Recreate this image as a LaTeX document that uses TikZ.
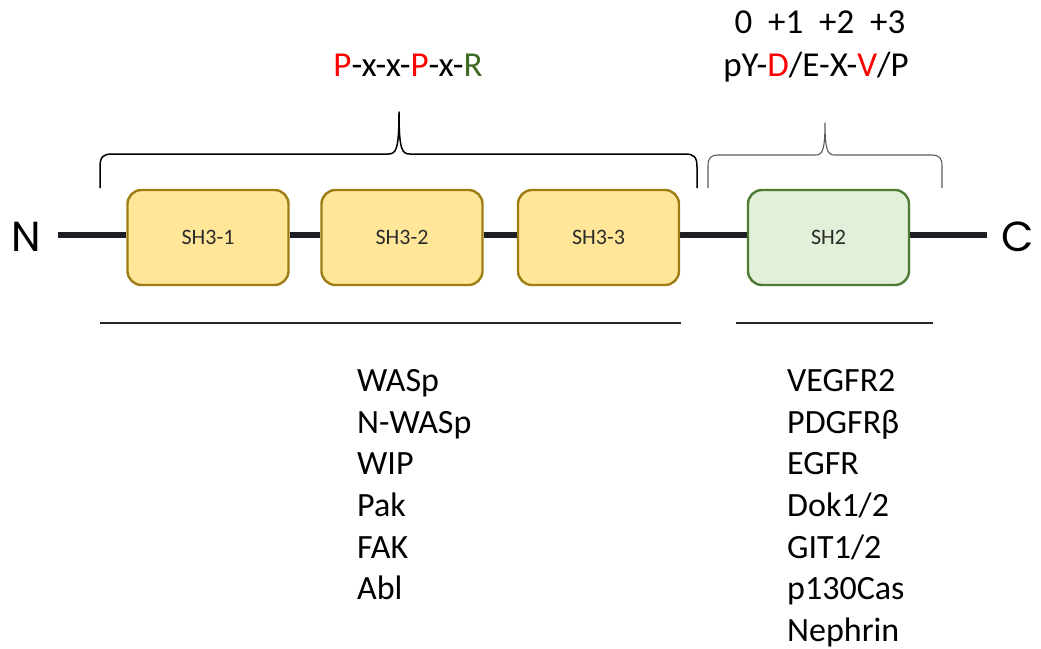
\documentclass[tikz,border=0pt]{standalone}
\usepackage{fontspec}
\setmainfont{Carlito}
\newfontfamily\geofont{Poppins}
\definecolor{sh3fill}{HTML}{FFE699}
\definecolor{sh3edge}{HTML}{9E7E14}
\definecolor{sh2fill}{HTML}{E2F0D9}
\definecolor{sh2edge}{HTML}{4F7A32}
\definecolor{motifred}{HTML}{FF0000}
\definecolor{motifgreen}{HTML}{3F6B24}
\definecolor{labelgray}{HTML}{2B2B2B}
\definecolor{bracegray}{HTML}{5A5A5A}
\definecolor{chain}{HTML}{1E1E24}
\begin{document}
\begin{tikzpicture}[x=1pt,y=-1pt,
  domainbox/.style={draw, rounded corners=14pt, line width=2.4pt, minimum width=161pt,
    minimum height=95pt, inner sep=0pt, text=labelgray,
    font=\fontsize{22}{26}\selectfont},
  sh3box/.style={domainbox, fill=sh3fill, draw=sh3edge},
  sh2box/.style={domainbox, fill=sh2fill, draw=sh2edge},
  backbone/.style={line width=6pt, draw=chain},
  terminus/.style={font=\geofont\fontsize{42}{48}\selectfont, inner ysep=0pt},
  motif/.style={font=\fontsize{35}{42}\selectfont, inner sep=0pt, anchor=base},
  partners/.style={font=\fontsize{34}{41.6}\selectfont, align=left, inner sep=0pt, anchor=north west},
  rule/.style={line width=1.4pt, draw=black!85},
]
\useasboundingbox (0,0) rectangle (1041,648);

% termini
\node[terminus, inner xsep=17pt] (N) at (26,237) {N};
\node[terminus, inner xsep=15pt] (C) at (1018,237) {C};

% domains
\node[sh3box] (d1) at (208,237.5) {SH3-1};
\node[sh3box] (d2) at (402,237.5) {SH3-2};
\node[sh3box] (d3) at (598.5,237.5) {SH3-3};
\node[sh2box] (d4) at (828.5,237.5) {SH2};

% polypeptide backbone between domains, running a little above their middle
\begin{scope}[backbone]
\draw ([yshift=2.5pt]d1.west -| N.east) -- ([yshift=2.5pt]d1.west);
\draw ([yshift=2.5pt]d1.east) -- ([yshift=2.5pt]d2.west);
\draw ([yshift=2.5pt]d2.east) -- ([yshift=2.5pt]d3.west);
\draw ([yshift=2.5pt]d3.east) -- ([yshift=2.5pt]d4.west);
\draw ([yshift=2.5pt]d4.east) -- ([yshift=2.5pt]d4.east -| C.west);
\end{scope}

% brace over the three SH3 domains
\draw[line width=1.5pt, line join=round]
  (100,188) -- (100,167) .. controls (100,157) and (103,154) .. (112,154)
  -- (388,154) .. controls (396,154) and (399,150) .. (399,112)
  .. controls (399,150) and (402,154) .. (410,154)
  -- (685,154) .. controls (694,154) and (697,157) .. (697,167) -- (697,188);

% brace over the SH2 domain
\draw[line width=1.1pt, draw=bracegray, line join=round]
  (708,188) -- (708,166) .. controls (708,158) and (711,155) .. (718,155)
  -- (815,155) .. controls (822,155) and (825,152) .. (825,123)
  .. controls (825,152) and (828,155) .. (835,155)
  -- (932,155) .. controls (939,155) and (942,158) .. (942,166) -- (942,188);

% binding motifs
\node[motif] (m1) at (408,76)
  {\textcolor{motifred}{P}-x-x-\textcolor{motifred}{P}-x-\textcolor{motifgreen}{R}};
\node[motif] (m2) at (816,76)
  {pY-\textcolor{motifred}{D}/E-X-\textcolor{motifred}{V}/P};
\node[motif] (pos) at (820,33) {0\ \ +1\ \ +2\ \ +3};

% lines above the binding partner lists
\draw[rule] (100,323) -- (681,323);
\draw[rule] (736,323) -- (933,323);

% binding partners
\node[partners] (p1) at (357,369.5)
  {WASp\\N-WASp\\WIP\\Pak\\FAK\\Abl};
\node[partners] (p2) at (787,369.5)
  {VEGFR2\\PDGFRβ\\EGFR\\Dok1/2\\GIT1/2\\p130Cas\\Nephrin};
\end{tikzpicture}
\end{document}
